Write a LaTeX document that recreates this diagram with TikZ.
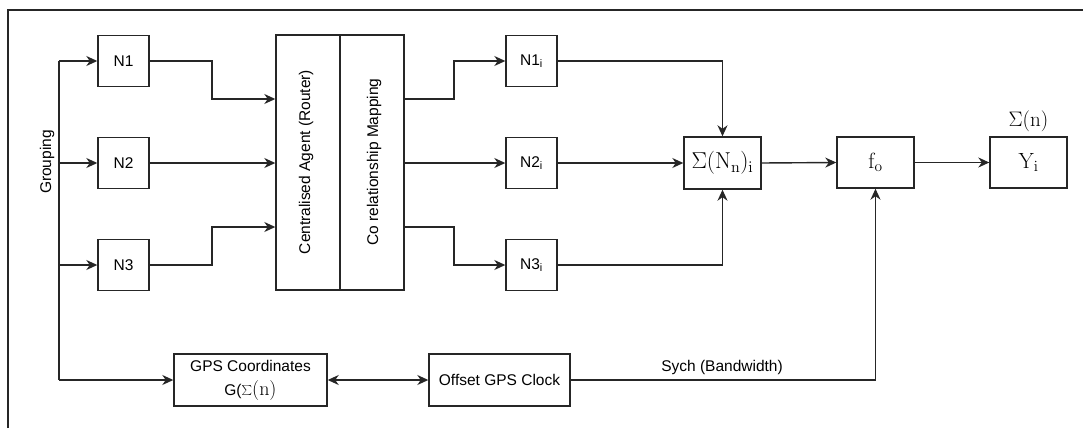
\RequirePackage{fix-cm}
\documentclass[tikz,border=0pt]{standalone}
\usepackage[no-math]{fontspec}
\setmainfont{Liberation Sans}
\usetikzlibrary{arrows.meta}
\tikzset{
  box/.style={draw=black!85, line width=1.4pt, inner sep=0pt, font=\fontsize{15.5}{18}\selectfont},
  tip/.tip={Stealth[length=11pt,width=10pt,inset=3.5pt]},
  conn/.style={draw=black!85, line width=1.4pt, -tip},
  plain/.style={draw=black!85, line width=1.4pt},
  lbl/.style={inner sep=0pt, font=\fontsize{15.5}{18}\selectfont},
  mathbox/.style={box, font=\fontsize{23}{26}\selectfont},
  mathlbl/.style={inner sep=0pt, font=\fontsize{21}{24}\selectfont},
}
\begin{document}
\begin{tikzpicture}[x=1pt,y=-1pt]
\useasboundingbox (0,0) rectangle (1083,428);
% frame
\draw[plain] (8,428) -- (8,10) -- (1083,10);
% left nodes
\node[box, minimum width=51pt, minimum height=51pt] (n1) at (123.5,61) {N1};
\node[box, minimum width=51pt, minimum height=51pt] (n2) at (123.5,163) {N2};
\node[box, minimum width=51pt, minimum height=51pt] (n3) at (123.5,265) {N3};
% central
\node[box, minimum width=64pt, minimum height=255pt] (agent) at (308,162.5) {};
\node[box, minimum width=64pt, minimum height=255pt] (map) at (372,162.5) {};
\node[lbl, rotate=90] (agentt) at (306,162) {Centralised Agent (Router)};
\node[lbl, rotate=90] (mapt) at (374,162) {Co relationship Mapping};
% right nodes
\node[box, minimum width=51pt, minimum height=51pt] (m1) at (531.5,61) {N1\textsubscript{i}};
\node[box, minimum width=51pt, minimum height=51pt] (m2) at (531.5,163) {N2\textsubscript{i}};
\node[box, minimum width=51pt, minimum height=51pt] (m3) at (531.5,265) {N3\textsubscript{i}};
\node[mathbox, minimum width=77pt, minimum height=52pt] (sum) at (722.5,163) {$\Sigma(\mathrm{N_n})_\mathrm{i}$};
\node[mathbox, minimum width=77pt, minimum height=51pt, font=\fontsize{22}{25}\selectfont] (fo) at (875.5,162.5) {$\mathrm{f_o}$};
\node[mathbox, minimum width=77pt, minimum height=51pt, font=\fontsize{22}{25}\selectfont] (yi) at (1028.5,162.5) {$\mathrm{Y_i}$};
\node[mathlbl] (sigt) at (1028.5,121) {$\Sigma(\mathrm{n})$};
% bottom
\node[box, minimum width=153pt, minimum height=52pt, align=center] (gps) at (250.5,380) {GPS Coordinates\\[6pt] G(\fontsize{20}{22}\selectfont$\textstyle\sum(\mathrm{n})$};
\node[box, minimum width=141pt, minimum height=52pt] (clk) at (499.5,380) {Offset GPS Clock};
\node[lbl] (sych) at (722,367) {Sych (Bandwidth)};
\node[lbl, rotate=90] (grp) at (47,162) {Grouping};
% grouping bus
\coordinate (gtop) at (59,61);
\coordinate (gbot) at (59,380);
\draw[plain] (gtop) -- (gbot);
\draw[conn] (gtop) -- (n1.west);
\draw[conn] (59,163) -- (n2.west);
\draw[conn] (59,265) -- (n3.west);
\draw[conn] (gbot) -- (gps.west);
% into central
\draw[conn] (n1.east) -- (212,61) -- (212,99) -- (agent.west |- 0,99);
\draw[conn] (n2.east) -- (agent.west |- n2);
\draw[conn] (n3.east) -- (212,265) -- (212,227) -- (agent.west |- 0,227);
% out of central
\draw[conn] (map.east |- 0,99) -- (454,99) -- (454,61) -- (m1.west);
\draw[conn] (map.east |- m2) -- (m2.west);
\draw[conn] (map.east |- 0,227) -- (454,227) -- (454,265) -- (m3.west);
% into sum
\draw[conn] (m1.east) -| (sum.north);
\draw[conn] (m2.east) -- (sum.west);
\draw[conn] (m3.east) -| (sum.south);
% to output
\draw[conn] (sum.east) -- (fo.west);
\draw[conn] (fo.east) -- (yi.west);
% bottom links
\draw[plain, tip-tip] (gps.east) -- (clk.west);
\draw[conn] (clk.east) -| (fo.south);
\end{tikzpicture}
\end{document}
